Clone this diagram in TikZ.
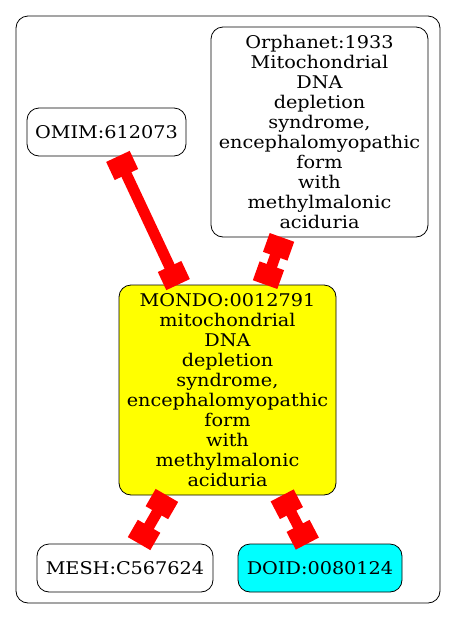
\documentclass[tikz,border=0pt]{standalone}
\usepackage{fontspec}
\setmainfont{DejaVu Serif}[FakeStretch=1.1]
\usetikzlibrary{arrows.meta}
\definecolor{nodeyellow}{RGB}{255,255,0}
\definecolor{nodecyan}{RGB}{0,255,255}
\definecolor{linkred}{RGB}{255,0,0}
\begin{document}
\begin{tikzpicture}[x=1pt,y=-1pt,
  term/.style={draw=black,line width=0.8pt,rounded corners=12pt,align=center,inner sep=0pt,
    font=\fontsize{17.5}{20}\selectfont},
  link/.style={draw=linkred,line width=11pt,{Square[length=20pt,width=26pt]}-{Square[length=20pt,width=26pt]}}]
\useasboundingbox (0,0) rectangle (456,619);
\draw[line width=0.8pt,rounded corners=12pt] (16,16) rectangle (440,603);
\node[term,minimum width=159pt,minimum height=48pt] (omim) at (106.5,132) {OMIM:612073};
\node[term,minimum width=217pt,minimum height=210pt] (orpha) at (319.5,132) {Orphanet:1933\\Mitochondrial\\DNA\\depletion\\syndrome,\\encephalomyopathic\\form\\with\\methylmalonic\\aciduria};
\node[term,fill=nodeyellow,minimum width=217pt,minimum height=210pt] (mondo) at (227.5,390) {MONDO:0012791\\mitochondrial\\DNA\\depletion\\syndrome,\\encephalomyopathic\\form\\with\\methylmalonic\\aciduria};
\node[term,minimum width=176pt,minimum height=48pt] (mesh) at (125,568) {MESH:C567624};
\node[term,fill=nodecyan,minimum width=164pt,minimum height=48pt] (doid) at (320,568) {DOID:0080124};
\draw[link] (omim) -- (mondo);
\draw[link] (orpha) -- (mondo);
\draw[link] (mondo) -- (mesh);
\draw[link] (mondo) -- (doid);
\end{tikzpicture}
\end{document}
